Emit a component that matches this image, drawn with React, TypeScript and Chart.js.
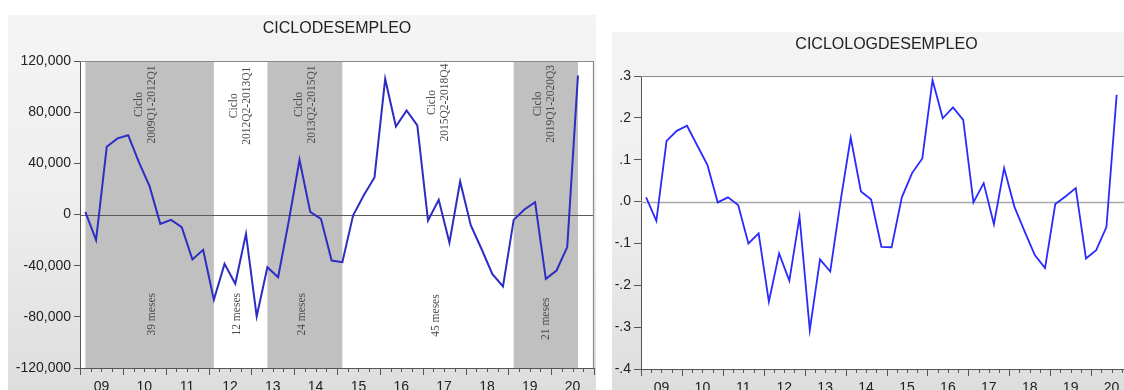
import React, { useEffect, useRef } from "react";
import { Chart, registerables } from "chart.js";

Chart.register(...registerables);

const QUARTERS = [
  "2009Q1", "2009Q2", "2009Q3", "2009Q4",
  "2010Q1", "2010Q2", "2010Q3", "2010Q4",
  "2011Q1", "2011Q2", "2011Q3", "2011Q4",
  "2012Q1", "2012Q2", "2012Q3", "2012Q4",
  "2013Q1", "2013Q2", "2013Q3", "2013Q4",
  "2014Q1", "2014Q2", "2014Q3", "2014Q4",
  "2015Q1", "2015Q2", "2015Q3", "2015Q4",
  "2016Q1", "2016Q2", "2016Q3", "2016Q4",
  "2017Q1", "2017Q2", "2017Q3", "2017Q4",
  "2018Q1", "2018Q2", "2018Q3", "2018Q4",
  "2019Q1", "2019Q2", "2019Q3", "2019Q4",
  "2020Q1", "2020Q2", "2020Q3",
];

const YEAR_LABELS = ["09", "10", "11", "12", "13", "14", "15", "16", "17", "18", "19", "20"];

const CICLO_DESEMPLEO = [
  2000, -20000, 53000, 59500, 62000, 41000, 22000, -7300,
  -4200, -9900, -35200, -27600, -66700, -38600, -54200, -15100,
  -79700, -41200, -49000, -5000, 42700, 2000, -3400, -36000,
  -37300, -800, 15000, 29000, 106000, 68800, 81300, 69600,
  -4700, 11500, -22100, 25800, -8600, -27000, -46400, -56300,
  -4200, 3900, 9600, -50300, -43800, -25500, 108700,
];

const CICLO_LOG_DESEMPLEO = [
  0.010, -0.046, 0.145, 0.169, 0.181, 0.134, 0.087, -0.002,
  0.010, -0.008, -0.100, -0.076, -0.239, -0.124, -0.189, -0.036,
  -0.307, -0.138, -0.167, 0.000, 0.153, 0.024, 0.005, -0.108,
  -0.109, 0.010, 0.068, 0.103, 0.290, 0.199, 0.225, 0.195,
  -0.002, 0.044, -0.054, 0.080, -0.012, -0.071, -0.128, -0.159,
  -0.006, 0.012, 0.032, -0.136, -0.116, -0.061, 0.255,
];

const LEVEL_TICKS = [-120000, -80000, -40000, 0, 40000, 80000, 120000];
const LOG_TICKS = [-0.4, -0.3, -0.2, -0.1, 0, 0.1, 0.2, 0.3];

const SHADED_FROM = ["2009Q1", "2013Q2", "2019Q1"];
const SHADED_TO = ["2012Q1", "2015Q1", "2020Q3"];

const CYCLE_PERIODS = ["2009Q1-2012Q1", "2012Q2-2013Q1", "2013Q2-2015Q1", "2015Q2-2018Q4", "2019Q1-2020Q3"];
const CYCLE_MONTHS = ["39 meses", "12 meses", "24 meses", "45 meses", "21 meses"];
// annotation anchors in data coordinates (quarter index, value)
const CYCLE_LABEL_X = [5.6, 14.5, 20.6, 33.0, 42.9];
const CYCLE_LABEL_Y = [86000, 85000, 86000, 87500, 86500];
const MONTHS_LABEL_X = [6.2, 14.2, 20.2, 32.7, 43.0];
const MONTHS_LABEL_Y = [-78000, -78000, -78000, -79000, -81500];

const SANS = '"Liberation Sans", Arial, sans-serif';
const SERIF = '"Liberation Serif", "Times New Roman", serif';

type PanelProps = {
  title: string;
  values: number[];
  yTicks: number[];
  format: (v: number) => string;
  left: number;
  top: number;
  width: number;
  height: number;
  axisWidth: number;
  padTop: number;
  padRight: number;
  xAxisHeight: number;
  yTickLen: number;
  lineColor: string;
  lineWidth: number;
  zeroColor: string;
  zeroWidth: number;
  titleY: number;
  bands: boolean;
};

function Panel(p: PanelProps) {
  const ref = useRef<HTMLCanvasElement | null>(null);

  useEffect(() => {
    if (!ref.current) return;
    const plugin = {
      id: "eviewsDecor",
      beforeDraw(chart: any) {
        const { ctx, chartArea: a } = chart;
        ctx.save();
        ctx.fillStyle = "#ffffff";
        ctx.fillRect(a.left, a.top, a.right - a.left, a.bottom - a.top);
        ctx.restore();
      },
      beforeDatasetsDraw(chart: any) {
        const { ctx, chartArea: a } = chart;
        const x = chart.scales.x;
        const y = chart.scales.y;
        ctx.save();
        if (p.bands) {
          ctx.fillStyle = "#c0c0c0";
          SHADED_FROM.forEach((q, k) => {
            const x0 = x.getPixelForValue(QUARTERS.indexOf(q));
            const x1 = x.getPixelForValue(QUARTERS.indexOf(SHADED_TO[k]));
            ctx.fillRect(x0, a.top, x1 - x0, a.bottom - a.top);
          });
          ctx.fillStyle = "#4a4a4a";
          ctx.font = `11.5px ${SERIF}`;
          ctx.textAlign = "center";
          ctx.textBaseline = "middle";
          CYCLE_PERIODS.forEach((period, k) => {
            const cx = x.getPixelForValue(CYCLE_LABEL_X[k]);
            const cy = y.getPixelForValue(CYCLE_LABEL_Y[k]);
            ctx.save();
            ctx.translate(cx, cy);
            ctx.rotate(-Math.PI / 2);
            ctx.fillText("Ciclo", 0, -6.5);
            ctx.fillText(period, 0, 6.5);
            ctx.restore();
            const mx = x.getPixelForValue(MONTHS_LABEL_X[k]);
            const my = y.getPixelForValue(MONTHS_LABEL_Y[k]);
            ctx.save();
            ctx.translate(mx, my);
            ctx.rotate(-Math.PI / 2);
            ctx.fillText(CYCLE_MONTHS[k], 0, 0);
            ctx.restore();
          });
        }
        // zero line
        const y0 = Math.round(y.getPixelForValue(0)) + 0.5;
        ctx.strokeStyle = p.zeroColor;
        ctx.lineWidth = p.zeroWidth;
        ctx.beginPath();
        ctx.moveTo(a.left, y0);
        ctx.lineTo(a.right, y0);
        ctx.stroke();
        // frame top / right
        ctx.strokeStyle = "#8a8a8a";
        ctx.lineWidth = 1.2;
        ctx.beginPath();
        ctx.moveTo(a.left, a.top + 0.5);
        ctx.lineTo(a.right - 0.5, a.top + 0.5);
        ctx.lineTo(a.right - 0.5, a.bottom);
        ctx.stroke();
        // quarter tick marks below x axis
        ctx.strokeStyle = "#555555";
        ctx.lineWidth = 1;
        ctx.beginPath();
        for (let k = 0; k <= 48; k++) {
          const px = Math.round(x.getPixelForValue(k - 0.5)) + 0.5;
          const len = k % 4 === 0 ? 7 : 4;
          ctx.moveTo(px, a.bottom);
          ctx.lineTo(px, a.bottom + len);
        }
        ctx.stroke();
        ctx.restore();
      },
      afterDraw(chart: any) {
        const { ctx, chartArea: a } = chart;
        ctx.save();
        ctx.fillStyle = "#222222";
        ctx.font = `16px ${SANS}`;
        ctx.textAlign = "center";
        ctx.textBaseline = "middle";
        ctx.fillText(p.title, (a.left + a.right) / 2, p.titleY);
        ctx.restore();
      },
    };

    const chart = new Chart(ref.current, {
      type: "line",
      data: {
        datasets: [
          {
            data: p.values.map((v, i) => ({ x: i, y: v })),
            borderColor: p.lineColor,
            borderWidth: p.lineWidth,
            pointRadius: 0,
            tension: 0,
            fill: false,
          },
        ],
      },
      options: {
        animation: false,
        responsive: false,
        events: [],
        layout: { padding: { top: p.padTop, right: p.padRight, left: 0, bottom: 0 } },
        plugins: {
          legend: { display: false },
          title: { display: false },
          tooltip: { enabled: false },
        },
        scales: {
          x: {
            type: "linear",
            min: -0.5,
            max: 47.5,
            afterBuildTicks: (s: any) => {
              s.ticks = YEAR_LABELS.map((_, j) => ({ value: 4 * j + 1.5 }));
            },
            afterFit: (s: any) => {
              s.height = p.xAxisHeight;
            },
            grid: {
              display: true,
              drawOnChartArea: false,
              drawTicks: true,
              tickLength: 8,
              color: "rgba(0,0,0,0)",
            },
            border: { display: true, color: "#555555", width: 1 },
            ticks: {
              autoSkip: false,
              maxRotation: 0,
              padding: 3,
              color: "#222222",
              font: { family: SANS, size: 14 },
              callback: (v: any) => YEAR_LABELS[Math.round((Number(v) - 1.5) / 4)] ?? "",
            },
          },
          y: {
            type: "linear",
            min: p.yTicks[0],
            max: p.yTicks[p.yTicks.length - 1],
            afterBuildTicks: (s: any) => {
              s.ticks = p.yTicks.map((v) => ({ value: v }));
            },
            afterFit: (s: any) => {
              s.width = p.axisWidth;
            },
            grid: {
              display: true,
              drawOnChartArea: false,
              drawTicks: true,
              tickLength: p.yTickLen,
              color: "#555555",
            },
            border: { display: true, color: "#555555", width: 1 },
            ticks: {
              padding: 3,
              color: "#222222",
              font: { family: SANS, size: 14 },
              callback: (v: any) => p.format(Number(v)),
            },
          },
        },
      },
      plugins: [plugin],
    } as any);
    return () => chart.destroy();
  }, []);

  return (
    <div
      style={{
        position: "absolute",
        left: p.left,
        top: p.top,
        width: p.width,
        height: p.height,
        background: "linear-gradient(to bottom, #f4f4f4 0%, #efefef 45%, #dcdcdc 100%)",
      }}
    >
      <canvas ref={ref} width={p.width} height={p.height} style={{ display: "block" }} />
    </div>
  );
}

const fmtLevel = (v: number) => Math.round(v).toLocaleString("en-US");
const fmtLog = (v: number) => {
  const r = Math.round(v * 10);
  if (r === 0) return ".0";
  return r < 0 ? "-." + -r : "." + r;
};

export default function App() {
  return (
    <div
      style={{
        position: "fixed",
        left: 0,
        top: 0,
        width: 1124,
        height: 390,
        overflow: "hidden",
        background: "#ffffff",
      }}
    >
      <Panel
        title="CICLODESEMPLEO"
        values={CICLO_DESEMPLEO}
        yTicks={LEVEL_TICKS}
        format={fmtLevel}
        left={8}
        top={15}
        width={588}
        height={390}
        axisWidth={72}
        padTop={46}
        padRight={2}
        xAxisHeight={37}
        yTickLen={6}
        lineColor="#2d2dc4"
        lineWidth={2}
        zeroColor="#5a5a5a"
        zeroWidth={1}
        titleY={14}
        bands={true}
      />
      <Panel
        title="CICLOLOGDESEMPLEO"
        values={CICLO_LOG_DESEMPLEO}
        yTicks={LOG_TICKS}
        format={fmtLog}
        left={612}
        top={32}
        width={525}
        height={370}
        axisWidth={29}
        padTop={44}
        padRight={5}
        xAxisHeight={33}
        yTickLen={7}
        lineColor="#2a2aff"
        lineWidth={1.8}
        zeroColor="#a8a8a8"
        zeroWidth={1.5}
        titleY={13}
        bands={false}
      />
    </div>
  );
}
